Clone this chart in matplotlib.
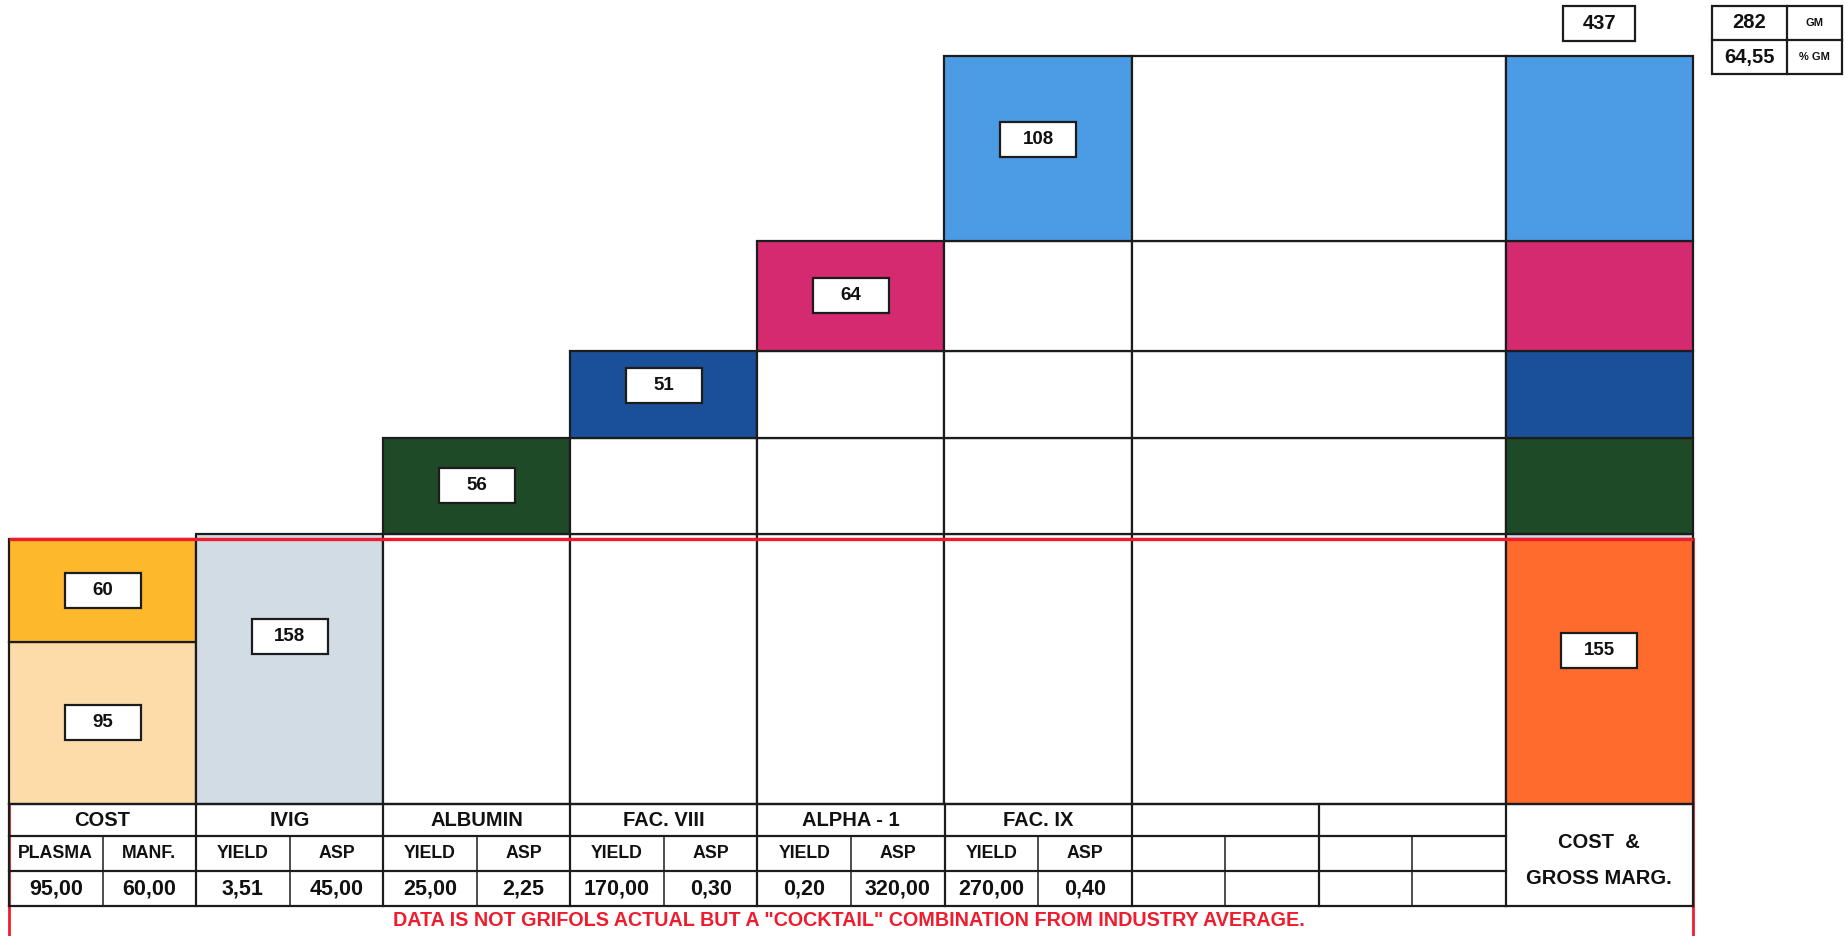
import numpy as np
import matplotlib.pyplot as plt
from matplotlib.patches import Rectangle

W, H = 1845, 936

# cost side, bottom to top
cost_labels = ["PLASMA", "MANF."]
cost_values = [95, 60]
cost_inputs = ["95,00", "60,00"]

# revenue per product (waterfall steps)
products = ["IVIG", "ALBUMIN", "FAC. VIII", "ALPHA - 1", "FAC. IX"]
revenue = [158, 56, 51, 64, 108]
yields = ["3,51", "25,00", "170,00", "0,20", "270,00"]
asps = ["45,00", "2,25", "0,30", "320,00", "0,40"]

gm_value = "282"
gm_pct = "64,55"
note = 'DATA IS NOT GRIFOLS ACTUAL BUT A "COCKTAIL" COMBINATION FROM INDUSTRY AVERAGE.'

# colours
c_plasma = "#FDDCAA"
c_manf = "#FDB92B"
c_cost = "#FF6B2C"
prod_colors = ["#D2DCE5", "#1F4A27", "#1A509A", "#D52A6F", "#4B9CE5"]
EC = "#1c1c1c"
RED = "#EE1C2C"
LW = 1.6

FONT = ["Liberation Sans", "DejaVu Sans"]

# layout (pixels)
x0, colw = 9, 187.1
base_px, top_px = 804, 56.5

total = sum(revenue)
cost_total = sum(cost_values)
steps = np.concatenate([[0], np.cumsum(revenue)])

fig = plt.figure(figsize=(W / 100, H / 100), dpi=100)
ax = fig.add_axes([x0 / W, (H - base_px) / H, 9 * colw / W, (base_px - top_px) / H])
ax.set_xlim(0, 9)
ax.set_ylim(0, total)
ax.axis("off")

pxu = (base_px - top_px) / total  # pixels per unit


def label_box(xc, yc, text, w_px=76, h_px=35, size=13.5):
    w = w_px / colw
    h = h_px / pxu
    ax.add_patch(Rectangle((xc - w / 2, yc - h / 2), w, h, fc="white", ec=EC,
                           lw=1.6, zorder=7, clip_on=False))
    ax.text(xc, yc, text, ha="center", va="center", fontsize=size,
            fontweight="bold", family=FONT, color="#111", zorder=8, clip_on=False)


def bar(xc, h, b, c, w=1):
    ax.bar(xc, h, width=w, bottom=b, color=c, edgecolor=EC, lw=LW, zorder=2,
           clip_on=False)


# cost column
bottom = 0
for v, c in zip(cost_values, [c_plasma, c_manf]):
    bar(0.5, v, bottom, c)
    bottom += v

# product columns with empty cells below each step
for i, (v, c) in enumerate(zip(revenue, prod_colors)):
    col = i + 1
    for j in range(i):
        bar(col + 0.5, revenue[j], steps[j], "white")
    bar(col + 0.5, v, steps[i], c)

# merged blank column
for j in range(len(revenue)):
    bar(7, revenue[j], steps[j], "white", w=2)

# cost & gross margin column
bar(8.5, cost_total, 0, c_cost)
for j in range(len(revenue)):
    b = max(steps[j], cost_total)
    h = steps[j + 1] - b
    if h > 0:
        bar(8.5, h, b, prod_colors[j])

# red cost line and frame
ax.plot([0, 9], [cost_total, cost_total], color=RED, lw=2.4, zorder=6,
        clip_on=False, solid_capstyle="butt")
for xe in [0, 9]:
    ax.plot([xe, xe], [cost_total, -120], color=RED, lw=2.0, zorder=0.5,
            clip_on=False)

# value boxes
label_box(0.5, cost_values[0] * 0.5, str(cost_values[0]))
label_box(0.5, cost_values[0] + cost_values[1] * 0.5, str(cost_values[1]))
fracs = [0.62, 0.5, 0.6, 0.5, 0.55]
for i, v in enumerate(revenue):
    label_box(i + 1.5, steps[i] + v * fracs[i], str(v))
label_box(8.5, cost_total * 0.58, str(cost_total))
label_box(8.5, total + 33 / pxu, str(total), w_px=72, size=14.5)

# overlay in pixel coordinates for the table
ov = fig.add_axes([0, 0, 1, 1])
ov.set_xlim(0, W)
ov.set_ylim(H, 0)
ov.axis("off")

cb = [x0 + colw * i for i in range(10)]
rows = [804, 836, 871, 906]

for y in rows:
    ov.plot([cb[0], cb[8]], [y, y], color=EC, lw=LW)
for y in [804, 906]:
    ov.plot([cb[8], cb[9]], [y, y], color=EC, lw=LW)
for i in range(10):
    ov.plot([cb[i], cb[i]], [804, 906], color=EC, lw=LW)
for i in range(8):
    xm = (cb[i] + cb[i + 1]) / 2
    ov.plot([xm, xm], [836, 906], color=EC, lw=1.1)

headers = ["COST"] + products
subs = [cost_labels] + [["YIELD", "ASP"]] * len(products)
vals = [cost_inputs] + [[y, a] for y, a in zip(yields, asps)]

for i, hdr in enumerate(headers):
    xc = (cb[i] + cb[i + 1]) / 2
    ov.text(xc, 821, hdr, ha="center", va="center", fontsize=14.5,
            fontweight="bold", family=FONT, color="#111")
    for k in range(2):
        xs = cb[i] + colw * (0.25 + 0.5 * k)
        ov.text(xs, 854, subs[i][k], ha="center", va="center", fontsize=12.8,
                fontweight="bold", family=FONT, color="#111")
        ov.text(xs, 889, vals[i][k], ha="center", va="center", fontsize=15.5,
                fontweight="bold", family=FONT, color="#111")

xr = (cb[8] + cb[9]) / 2
ov.text(xr, 842, "COST  &", ha="center", va="center", fontsize=14.5,
        fontweight="bold", family=FONT, color="#111")
ov.text(xr, 879, "GROSS MARG.", ha="center", va="center", fontsize=14.5,
        fontweight="bold", family=FONT, color="#111")

ov.text(849, 920, note, ha="center", va="center", fontsize=14.2,
        fontweight="bold", family=FONT, color=RED)

# gross margin box (top right)
gx0, gx1, gxm = 1712, 1842, 1787
gy0, gy1, gym = 6, 74, 40
ov.add_patch(Rectangle((gx0, gy0), gx1 - gx0, gy1 - gy0, fc="white", ec=EC, lw=1.6))
ov.plot([gx0, gx1], [gym, gym], color=EC, lw=1.6)
ov.plot([gxm, gxm], [gy0, gy1], color=EC, lw=1.6)
ov.text((gx0 + gxm) / 2, (gy0 + gym) / 2, gm_value, ha="center", va="center",
        fontsize=14.5, fontweight="bold", family=FONT, color="#111")
ov.text((gx0 + gxm) / 2, (gym + gy1) / 2, gm_pct, ha="center", va="center",
        fontsize=14.5, fontweight="bold", family=FONT, color="#111")
ov.text((gxm + gx1) / 2, (gy0 + gym) / 2, "GM", ha="center", va="center",
        fontsize=8, fontweight="bold", family=FONT, color="#111")
ov.text((gxm + gx1) / 2, (gym + gy1) / 2, "% GM", ha="center", va="center",
        fontsize=8, fontweight="bold", family=FONT, color="#111")

fig.savefig("out.png", dpi=100, facecolor="white")
